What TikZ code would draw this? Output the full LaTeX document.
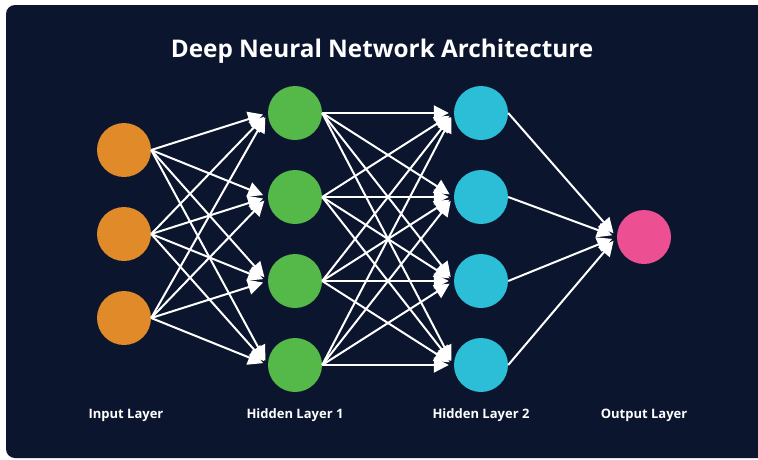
\documentclass[tikz,border=0pt]{standalone}
\usepackage{fontspec}
\setmainfont{Open Sans}
\usetikzlibrary{arrows.meta}
\definecolor{panel}{RGB}{11,21,46}
\definecolor{inorange}{RGB}{224,138,42}
\definecolor{hidgreen}{RGB}{84,185,72}
\definecolor{hidcyan}{RGB}{44,190,214}
\definecolor{outpink}{RGB}{236,80,146}
\tikzset{
  neuron/.style={circle, minimum size=54pt, inner sep=0pt, draw=none},
  link/.style={draw=white, line width=2pt, shorten >=5pt,
    -{Triangle[length=15pt,width=15pt]}},
  layerlabel/.style={text=white, font=\bfseries\fontsize{13}{15}\selectfont},
  titletext/.style={text=white, font=\bfseries\fontsize{24.3}{29}\selectfont}
}
\begin{document}
\begin{tikzpicture}[x=1pt,y=-1pt]
  \useasboundingbox (0,0) rectangle (758,459);
  \fill[white] (0,0) rectangle (758,459);
  \begin{scope}
    \clip (0,0) rectangle (758,459);
    \fill[panel, rounded corners=9pt] (6,5) rectangle (780,458);
  \end{scope}

  \node[titletext] (title) at (382,51) {Deep Neural Network Architecture};

  % input layer
  \foreach \i/\y in {1/150,2/234,3/318}
    \node[neuron, fill=inorange] (i\i) at (124,\y) {};
  % hidden layers
  \foreach \i/\y in {1/113,2/197,3/281,4/365} {
    \node[neuron, fill=hidgreen] (a\i) at (295,\y) {};
    \node[neuron, fill=hidcyan] (b\i) at (481,\y) {};
  }
  % output layer
  \node[neuron, fill=outpink] (o1) at (644,237) {};

  % connections
  \foreach \s in {1,2,3}
    \foreach \t in {1,2,3,4}
      \draw[link] (i\s.east) -- (a\t.west);
  \foreach \s in {1,2,3,4}
    \foreach \t in {1,2,3,4}
      \draw[link] (a\s.east) -- (b\t.west);
  \foreach \s in {1,2,3,4}
    \draw[link] (b\s.east) -- (o1.west);

  % layer captions
  \node[layerlabel] (l1) at (126,415) {Input Layer};
  \node[layerlabel] (l2) at (295,415) {Hidden Layer 1};
  \node[layerlabel] (l3) at (481,415) {Hidden Layer 2};
  \node[layerlabel] (l4) at (644,415) {Output Layer};
\end{tikzpicture}
\end{document}
